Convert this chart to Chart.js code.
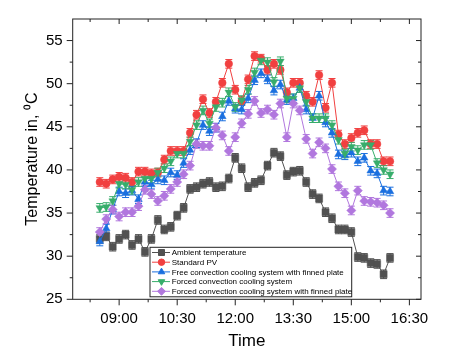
<!DOCTYPE html>
<html>
<head>
<meta charset="utf-8">
<script src="https://cdn.jsdelivr.net/npm/chart.js@4.4.0/dist/chart.umd.min.js"></script>
<style>
  html, body { margin: 0; padding: 0; background: #fff; }
  #wrap { width: 470px; height: 363px; }
</style>
</head>
<body>
<div id="wrap"><canvas id="chart" width="470" height="363"></canvas></div>
<script>
// Measurement times (10 minute interval)
const times = [
  '08:30','08:40','08:50','09:00','09:10','09:20','09:30','09:40','09:50','10:00',
  '10:10','10:20','10:30','10:40','10:50','11:00','11:10','11:20','11:30','11:40',
  '11:50','12:00','12:10','12:20','12:30','12:40','12:50','13:00','13:10','13:20',
  '13:30','13:40','13:50','14:00','14:10','14:20','14:30','14:40','14:50','15:00',
  '15:10','15:20','15:30','15:40','15:50','16:00'
];

const ambient = [
  32.0, 32.3, 31.1, 32.0, 32.5, 31.3, 32.0, 30.5, 32.0, 34.2,
  33.1, 33.4, 34.7, 35.6, 37.8, 38.0, 38.4, 38.6, 38.0, 38.1,
  39.0, 41.4, 40.2, 38.0, 38.5, 38.8, 40.5, 42.0, 41.6, 39.4,
  39.8, 39.9, 38.6, 37.2, 36.7, 35.1, 34.4, 33.1, 33.1, 32.8,
  29.9, 29.8, 29.2, 29.1, 27.9, 29.8
];
const standardPV = [
  38.6, 38.4, 38.9, 39.2, 39.1, 38.6, 39.8, 39.8, 39.6, 39.7,
  41.2, 42.2, 42.2, 42.2, 44.3, 46.4, 48.2, 46.6, 47.9, 50.1,
  52.3, 49.3, 48.0, 50.5, 53.2, 52.9, 51.6, 52.3, 51.6, 49.0,
  50.1, 50.1, 48.6, 47.9, 51.0, 47.2, 50.1, 44.1, 43.0, 43.7,
  44.3, 44.6, 43.0, 43.0, 41.0, 41.0
];
const freeFinned = [
  31.7, 33.2, 35.4, 37.5, 37.3, 37.6, 36.6, 38.6, 38.3, 38.9,
  38.8, 39.7, 39.4, 40.8, 42.3, 43.1, 45.2, 44.5, 44.9, 46.2,
  48.0, 47.1, 47.0, 48.3, 50.4, 51.2, 50.5, 49.2, 49.9, 48.1,
  48.3, 49.5, 47.0, 46.0, 48.6, 45.5, 44.3, 41.8, 41.7, 42.0,
  41.0, 41.4, 39.9, 39.6, 37.6, 37.5
];
const forced = [
  35.6, 35.7, 36.4, 38.4, 38.3, 37.7, 38.6, 39.0, 39.0, 39.7,
  40.2, 41.0, 41.9, 41.9, 43.3, 45.2, 46.9, 45.4, 47.3, 47.8,
  49.0, 47.3, 48.1, 49.3, 51.3, 52.7, 52.5, 50.2, 52.6, 48.3,
  48.3, 49.5, 47.9, 46.0, 46.0, 46.0, 45.2, 43.5, 41.9, 42.7,
  42.3, 42.9, 42.9, 40.8, 40.0, 39.5
];
const forcedFinned = [
  32.8, 34.3, 35.4, 34.6, 35.1, 35.1, 35.8, 37.7, 37.2, 36.4,
  37.0, 37.8, 38.6, 39.5, 40.5, 43.0, 42.8, 42.8, 44.9, 44.0,
  42.2, 43.8, 45.4, 46.5, 48.0, 46.6, 47.0, 46.4, 47.7, 43.8,
  47.7, 46.9, 43.6, 41.9, 43.2, 42.5, 40.1, 38.1, 37.3, 35.3,
  37.6, 36.4, 36.3, 36.2, 35.9, 35.0
];
const errorBar = 0.5;

const seriesNames = [
  'Ambient temperature',
  'Standard PV',
  'Free convection cooling system with finned plate',
  'Forced convection cooling system',
  'Forced convection cooling system with finned plate'
];
const xTicks = ['09:00', '10:30', '12:00', '13:30', '15:00', '16:30'];
const yTicks = [25, 30, 35, 40, 45, 50, 55];

const FONT = '"Liberation Sans", Arial, sans-serif';

const toMin = s => { const [h, m] = s.split(':').map(Number); return h * 60 + m; };
const fmt = v => String(Math.floor(v / 60)).padStart(2, '0') + ':' + String(v % 60).padStart(2, '0');

const styles = [
  { color: '#515151', pointStyle: 'rect', radius: 5, rotation: 0 },
  { color: '#F14040', pointStyle: 'circle', radius: 3.8, rotation: 0 },
  { color: '#1A6FDF', pointStyle: 'triangle', radius: 4.4, rotation: 0 },
  { color: '#37AD6B', pointStyle: 'triangle', radius: 4.4, rotation: 180 },
  { color: '#B177DE', pointStyle: 'rectRot', radius: 4.6, rotation: 0 }
];
const allSeries = [ambient, standardPV, freeFinned, forced, forcedFinned];

const datasets = allSeries.map((vals, i) => ({
  label: seriesNames[i],
  data: vals.map((v, j) => ({ x: toMin(times[j]), y: v })),
  borderColor: styles[i].color,
  backgroundColor: styles[i].color,
  borderWidth: 1,
  pointStyle: styles[i].pointStyle,
  pointRadius: styles[i].radius,
  pointRotation: styles[i].rotation,
  pointBorderWidth: 0.5,
  tension: 0,
  order: allSeries.length - i
}));

// error bars under the markers
const errorBars = {
  id: 'errorBars',
  beforeDatasetsDraw(chart) {
    const ctx = chart.ctx;
    const ys = chart.scales.y;
    chart.data.datasets.forEach((ds, i) => {
      const meta = chart.getDatasetMeta(i);
      ctx.save();
      ctx.strokeStyle = ds.borderColor;
      ctx.lineWidth = 1;
      meta.data.forEach((pt, j) => {
        const v = ds.data[j].y;
        const y1 = ys.getPixelForValue(v + errorBar);
        const y2 = ys.getPixelForValue(v - errorBar);
        ctx.beginPath();
        ctx.moveTo(pt.x, y1); ctx.lineTo(pt.x, y2);
        ctx.moveTo(pt.x - 3.5, y1); ctx.lineTo(pt.x + 3.5, y1);
        ctx.moveTo(pt.x - 3.5, y2); ctx.lineTo(pt.x + 3.5, y2);
        ctx.stroke();
      });
      ctx.restore();
    });
  }
};

// box, tick marks and the legend
const frame = {
  id: 'frame',
  afterDraw(chart) {
    const { ctx, chartArea: a, scales: { x, y } } = chart;
    ctx.save();
    ctx.strokeStyle = '#222';
    ctx.lineWidth = 1;
    ctx.strokeRect(a.left, a.top, a.right - a.left, a.bottom - a.top);

    ctx.beginPath();
    const xMajor = xTicks.map(toMin);
    const xMinor = xMajor.map(v => v - 45).concat([xMajor[xMajor.length - 1] + 45])
      .filter(v => v > x.min && v < x.max);
    xMajor.forEach(v => {
      const px = x.getPixelForValue(v);
      ctx.moveTo(px, a.bottom); ctx.lineTo(px, a.bottom + 6);
      ctx.moveTo(px, a.top); ctx.lineTo(px, a.top + 5);
    });
    xMinor.forEach(v => {
      const px = x.getPixelForValue(v);
      ctx.moveTo(px, a.bottom); ctx.lineTo(px, a.bottom + 3);
      ctx.moveTo(px, a.top); ctx.lineTo(px, a.top + 3);
    });
    yTicks.forEach(v => {
      const py = y.getPixelForValue(v);
      ctx.moveTo(a.left, py); ctx.lineTo(a.left - 6, py);
      ctx.moveTo(a.right, py); ctx.lineTo(a.right - 5, py);
      const m = v + 2.5;
      if (m < y.max) {
        const pm = y.getPixelForValue(m);
        ctx.moveTo(a.left, pm); ctx.lineTo(a.left - 3, pm);
        ctx.moveTo(a.right, pm); ctx.lineTo(a.right - 3, pm);
      }
    });
    ctx.stroke();

    // legend
    const lx = 150, ly = 247.3, lw = 201.7, lh = 49.5;
    ctx.fillStyle = '#fff';
    ctx.fillRect(lx, ly, lw, lh);
    ctx.strokeStyle = '#222';
    ctx.strokeRect(lx, ly, lw, lh);
    ctx.font = '8px ' + FONT;
    ctx.textBaseline = 'middle';
    seriesNames.forEach((name, i) => {
      const cy = ly + 5.2 + i * 9.7;
      const st = styles[i];
      ctx.strokeStyle = st.color;
      ctx.beginPath();
      ctx.moveTo(lx + 2, cy); ctx.lineTo(lx + 20, cy);
      ctx.stroke();
      ctx.fillStyle = st.color;
      Chart.helpers.drawPoint(ctx, {
        pointStyle: st.pointStyle, radius: st.radius * 0.85,
        rotation: st.rotation, borderWidth: 0.5
      }, lx + 11.5, cy);
      ctx.fillStyle = '#000';
      ctx.fillText(name, lx + 21.7, cy + 0.5);
    });
    ctx.restore();
  }
};

new Chart(document.getElementById('chart'), {
  type: 'line',
  data: { datasets },
  options: {
    responsive: false,
    animation: false,
    layout: { padding: { top: 19, right: 49, left: 0, bottom: 0 } },
    plugins: { legend: { display: false }, tooltip: { enabled: false } },
    scales: {
      x: {
        type: 'linear',
        min: 468,
        max: 1008,
        afterBuildTicks: s => { s.ticks = xTicks.map(t => ({ value: toMin(t) })); },
        afterFit: s => { s.height = 63.7; },
        grid: { display: false, drawTicks: true, tickLength: 6 },
        border: { display: false },
        ticks: {
          callback: v => fmt(v),
          font: { family: FONT, size: 15 },
          color: '#000',
          padding: 5,
          maxRotation: 0,
          autoSkip: false
        },
        title: {
          display: true,
          text: 'Time',
          font: { family: FONT, size: 17 },
          color: '#000',
          padding: { top: 0, bottom: 11 }
        }
      },
      y: {
        min: 25,
        max: 57.5,
        afterBuildTicks: s => { s.ticks = yTicks.map(v => ({ value: v })); },
        afterFit: s => { s.width = 72.7; },
        grid: { display: false, drawTicks: true, tickLength: 6 },
        border: { display: false },
        ticks: {
          font: { family: FONT, size: 15 },
          color: '#000',
          padding: 4
        },
        title: {
          display: true,
          text: 'Temperature in, \u2070C',
          font: { family: FONT, size: 16 },
          color: '#000',
          padding: { top: 23.4, bottom: 0 }
        }
      }
    }
  },
  plugins: [errorBars, frame]
});
</script>
</body>
</html>
